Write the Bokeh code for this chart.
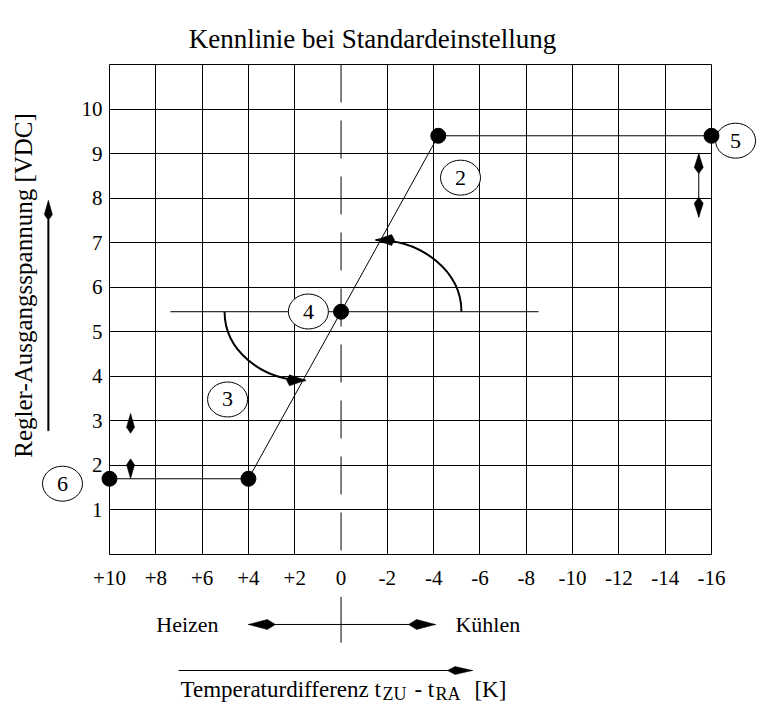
import math
from bokeh.plotting import figure
from bokeh.models import Range1d, FixedTicker, Span
from bokeh.embed import file_html
from bokeh.resources import INLINE
from bokeh.core.properties import value

# ---------------- data ----------------
x_ticks = [10, 8, 6, 4, 2, 0, -2, -4, -6, -8, -10, -12, -14, -16]
x_tick_labels = ["+10", "+8", "+6", "+4", "+2", "0", "-2", "-4", "-6",
                 "-8", "-10", "-12", "-14", "-16"]
y_ticks = [1, 2, 3, 4, 5, 6, 7, 8, 9, 10]
y_tick_labels = ["1", "2", "3", "4", "5", "6", "7", "8", "9", "10"]

# characteristic curve (temperature difference K, output voltage VDC)
curve_dt = [10, 4, 0, -4.2, -16]
curve_v = [1.7, 1.7, 5.45, 9.4, 9.4]

# numbered callouts
callout_text = ["2", "3", "4", "5", "6"]
callout_dt = [-5.16, 4.90, 1.41, -17.04, 12.03]
callout_v = [8.46, 3.48, 5.455, 9.29, 1.59]

# set-point line through point 4
setpoint_dt = [7.37, -8.53]
setpoint_v = [5.45, 5.45]

# curved shift arrows: start (dt, v) -> end (dt, v)
shift_heat = [(5.03, 5.45), (1.53, 3.91)]
shift_cool = [(-5.2, 5.45), (-1.49, 7.06)]

# ---------------- figure ----------------
FONT = "Liberation Serif"
W, H = 762, 704
BL, BR, BT, BB = 109, 51, 64, 150
X0, X1, Y0, Y1 = 10, -16, 0, 11
FW = W - BL - BR
FH = H - BT - BB
px_x = FW / (X0 - X1)
px_y = FH / (Y1 - Y0)

p = figure(width=W, height=H, x_range=Range1d(X0, X1), y_range=Range1d(Y0, Y1),
           output_backend="svg", toolbar_location=None,
           min_border_left=BL, min_border_right=BR,
           min_border_top=BT, min_border_bottom=BB)
p.background_fill_color = "white"
p.border_fill_color = "white"
p.outline_line_color = "black"
p.outline_line_width = 1
p.outline_line_alpha = 1.0

p.xaxis.ticker = FixedTicker(ticks=x_ticks)
p.xaxis.major_label_overrides = {t: l for t, l in zip(x_ticks, x_tick_labels)}
p.yaxis.ticker = FixedTicker(ticks=y_ticks)
p.yaxis.major_label_overrides = {t: l for t, l in zip(y_ticks, y_tick_labels)}
for ax in (p.xaxis, p.yaxis):
    ax.axis_line_color = None
    ax.major_tick_line_color = None
    ax.minor_tick_line_color = None
    ax.major_tick_out = 0
    ax.major_tick_in = 0
    ax.major_label_text_font = FONT
    ax.major_label_text_font_size = "21px"
    ax.major_label_text_color = "black"
p.xaxis.major_label_standoff = 16
p.yaxis.major_label_standoff = 7

p.xgrid.ticker = FixedTicker(ticks=[t for t in x_ticks if t != 0])
p.ygrid.ticker = FixedTicker(ticks=y_ticks)
for g in (p.xgrid, p.ygrid):
    g.grid_line_color = "black"
    g.grid_line_alpha = 1.0
    g.grid_line_width = 1

# dashed zero line
p.add_layout(Span(location=0, dimension="height", line_color="black",
                  line_width=1, line_dash="38 18"))


def to_screen(x, y):
    return (X0 - x) * px_x, (y - Y0) * px_y


def to_data(sx, sy):
    return X0 - sx / px_x, Y0 + sy / px_y


def head(tip, direction, length, width, waist=0.8):
    dx, dy = direction
    n = math.hypot(dx, dy)
    dx, dy = dx / n, dy / n
    nx, ny = -dy, dx
    tx, ty = to_screen(*tip)
    pts = [(tx, ty),
           (tx - waist * length * dx + 0.5 * width * nx, ty - waist * length * dy + 0.5 * width * ny),
           (tx - length * dx, ty - length * dy),
           (tx - waist * length * dx - 0.5 * width * nx, ty - waist * length * dy - 0.5 * width * ny)]
    xs, ys = zip(*[to_data(a, b) for a, b in pts])
    return list(xs), list(ys)


def full_arrow(tail, tip, length, width, shaft_px=1.4, waist=0.75):
    """Whole arrow (shaft + head) as one closed outline in data units."""
    tx, ty = to_screen(*tip)
    bx, by = to_screen(*tail)
    dx, dy = tx - bx, ty - by
    n = math.hypot(dx, dy)
    dx, dy = dx / n, dy / n
    nx, ny = -dy, dx
    hs = 0.5 * shaft_px
    hw = 0.5 * width
    wx, wy = tx - waist * length * dx, ty - waist * length * dy
    rx, ry = tx - length * dx, ty - length * dy
    pts = [(tx, ty),
           (wx + hw * nx, wy + hw * ny),
           (rx + hs * nx, ry + hs * ny),
           (bx + hs * nx, by + hs * ny),
           (bx - hs * nx, by - hs * ny),
           (rx - hs * nx, ry - hs * ny),
           (wx - hw * nx, wy - hw * ny)]
    xs, ys = zip(*[to_data(a, b) for a, b in pts])
    return list(xs), list(ys)


heads = []
shafts = []


def add_head(tip, direction, length, width, waist=0.8):
    heads.append(head(tip, direction, length, width, waist))


def add_shaft(xa, ya, xb, yb):
    shafts.append(([xa, xb], [ya, yb]))


# curve and set-point line
p.line(setpoint_dt, setpoint_v, line_color="black", line_width=1)
p.line(curve_dt, curve_v, line_color="black", line_width=1)

# curved arrows
K = 0.5523
for (sx_, sy_), (ex_, ey_) in (shift_heat, shift_cool):
    c0 = (sx_, sy_ + K * (ey_ - sy_))
    c1 = (ex_ + K * (sx_ - ex_), ey_)
    p.bezier(x0=[sx_], y0=[sy_], x1=[ex_], y1=[ey_], cx0=[c0[0]], cy0=[c0[1]],
             cx1=[c1[0]], cy1=[c1[1]], line_color="black", line_width=2)
    a = to_screen(ex_, ey_)
    b = to_screen(*c1)
    add_head((ex_, ey_), (a[0] - b[0], a[1] - b[1]), 19, 11, 0.85)

# double arrow near callout 5
a5_x, a5_top, a5_bot = -15.45, 9.0, 7.57
add_shaft(a5_x, a5_top, a5_x, a5_bot)
add_head((a5_x, a5_top), (0, 1), 20, 9, 0.7)
add_head((a5_x, a5_bot), (0, -1), 20, 9, 0.7)

# arrow heads near callout 6
a6_x, a6_top, a6_bot = 9.09, 3.17, 1.70
add_head((a6_x, a6_top), (0, 1), 20, 8, 0.7)
add_head((a6_x, a6_bot), (0, -1), 20, 8, 0.7)

# ---------------- outside items (drawn as overlay glyphs) ----------------
# Heizen / Kühlen arrow and cross mark
hk_y, hk_left, hk_right = -1.571, 4.0, -4.08
add_shaft(hk_left, hk_y, hk_right, hk_y)
add_shaft(0, -0.95, 0, -1.98)
add_head((hk_left, hk_y), (-1, 0), 27, 10, 0.7)
add_head((hk_right, hk_y), (1, 0), 27, 10, 0.7)

# x label arrow
xa_y, xa_left, xa_right = -2.604, 7.02, -5.68
add_shaft(xa_left, xa_y, xa_right, xa_y)
add_head((xa_right, xa_y), (1, 0), 25, 8, 0.7)

for lx, ly in shafts:
    p.line(lx, ly, line_color="black", line_width=1, level="overlay")
for hx, hy in heads:
    p.patch(hx, hy, fill_color="black", line_color="black", line_width=0.5,
            level="overlay")

# callout circles and numbers
p.ellipse(x=callout_dt, y=callout_v, width=40, height=35, width_units="screen",
          height_units="screen", fill_color="white", line_color="black",
          line_width=1, level="overlay")
p.text(x=callout_dt, y=callout_v, text=callout_text, text_align="center",
       text_baseline="middle", text_font=value(FONT), text_font_size="22px",
       text_color="black", level="overlay")

# points
p.scatter(curve_dt, curve_v, size=15, fill_color="black", line_color="black",
          level="overlay")


def add_text(txt, x, y, size, align="left", angle=0.0):
    p.text(x=[x], y=[y], text=[txt], angle=angle, text_align=align,
           text_baseline="middle", text_font=value(FONT), text_font_size=size,
           text_color="black", level="overlay")


# title
add_text("Kennlinie bei Standardeinstellung", -1.36, 11.58, "27px", align="center")
# y label
add_text("Regler-Ausgangsspannung [VDC]", 13.72, 6.04, "25px", align="center",
         angle=math.pi / 2)
# Heizen / Kühlen
add_text("Heizen", 5.29, hk_y, "22px", align="right")
add_text("Kühlen", -4.94, hk_y, "22px", align="left")
# x label with subscripts
xl_main_y, xl_sub_y = -3.03, -3.14
xl_parts = [("Temperaturdifferenz t", 6.934, xl_main_y, "23px"),
            ("ZU", -1.79, xl_sub_y, "18px"),
            ("- t", -3.17, xl_main_y, "23px"),
            ("RA", -4.08, xl_sub_y, "18px"),
            ("[K]", -5.76, xl_main_y, "23px")]
for txt, lx, ly, fs in xl_parts:
    add_text(txt, lx, ly, fs)

# y label arrow: shaft and head as ONE closed shape, drawn last
ya_x, ya_bot, ya_top = 12.64, 2.78, 7.95
axs, ays = full_arrow((ya_x, ya_bot), (ya_x, ya_top), 19, 8, 1.4, 0.75)
p.patch(axs, ays, fill_color="black", line_color="black", line_width=0.6,
        level="overlay")

open("out.html", "w").write(file_html(p, INLINE))
